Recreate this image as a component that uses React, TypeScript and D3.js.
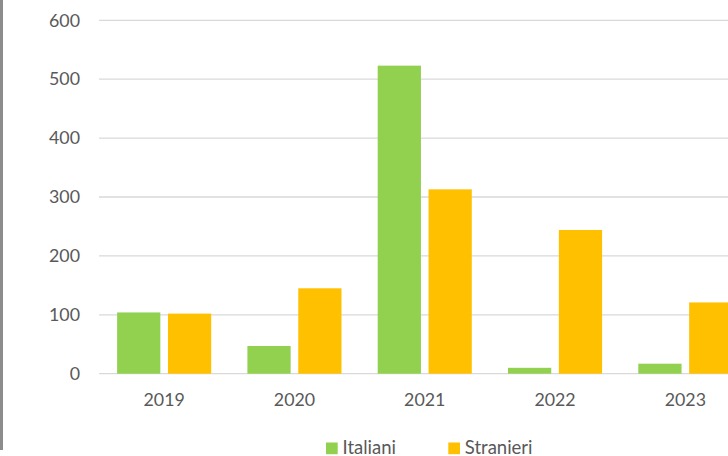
import React, { useEffect, useRef } from 'react';
import * as d3 from 'd3';

const years = ['2019', '2020', '2021', '2022', '2023'];
const italiani = [104, 47, 523, 10, 17];
const stranieri = [102, 145, 313, 244, 121];
const seriesNames = ['Italiani', 'Stranieri'];
const seriesColors = ['#92d050', '#ffc000'];
const yTicks = [0, 100, 200, 300, 400, 500, 600];

const App: React.FC = () => {
  const svgRef = useRef<SVGSVGElement>(null);

  useEffect(() => {
    if (!svgRef.current) return;
    const svg = d3.select(svgRef.current);
    svg.selectAll('*').remove();

    const width = 728;
    const font = 'Lato, "Open Sans", sans-serif';

    // chart runs off the right edge, as in the reference
    const x = d3.scaleBand().domain(years).range([99, 750.5]).paddingInner(0.278).paddingOuter(0.139);
    const inner = d3.scaleBand().domain(seriesNames).range([0, x.bandwidth()]).paddingInner(0.15);
    const y = d3.scaleLinear().domain([0, 600]).range([373.7, 20.3]);

    // left border
    svg.append('rect').attr('x', 0).attr('y', 0).attr('width', 3).attr('height', 450).attr('fill', '#8c8c8c');

    // grid
    svg
      .selectAll('.grid')
      .data(yTicks)
      .enter()
      .append('line')
      .attr('x1', 99)
      .attr('x2', width)
      .attr('y1', (d) => y(d))
      .attr('y2', (d) => y(d))
      .attr('stroke', '#d9d9d9')
      .attr('stroke-width', 1.3);

    svg
      .selectAll('.ylab')
      .data(yTicks)
      .enter()
      .append('text')
      .attr('x', 80)
      .attr('y', (d) => y(d))
      .attr('dy', '0.35em')
      .attr('text-anchor', 'end')
      .attr('font-family', font)
      .attr('font-size', 17.8)
      .attr('fill', '#595959')
      .text((d) => d);

    const data = [italiani, stranieri];
    data.forEach((vals, si) => {
      svg
        .append('g')
        .selectAll('rect')
        .data(vals)
        .enter()
        .append('rect')
        .attr('x', (_, i) => (x(years[i]) || 0) + (inner(seriesNames[si]) || 0))
        .attr('y', (d) => y(d))
        .attr('width', inner.bandwidth())
        .attr('height', (d) => y(0) - y(d))
        .attr('fill', seriesColors[si]);
    });

    svg
      .selectAll('.xlab')
      .data(years)
      .enter()
      .append('text')
      .attr('x', (d) => (x(d) || 0) + x.bandwidth() / 2)
      .attr('y', 400)
      .attr('dy', '0.35em')
      .attr('text-anchor', 'middle')
      .attr('font-family', font)
      .attr('font-size', 17.8)
      .attr('fill', '#595959')
      .text((d) => d);

    // legend
    const legendX = [326, 448.3];
    seriesNames.forEach((name, i) => {
      svg
        .append('rect')
        .attr('x', legendX[i])
        .attr('y', 442.5)
        .attr('width', 11.7)
        .attr('height', 11.7)
        .attr('fill', seriesColors[i]);
      svg
        .append('text')
        .attr('x', legendX[i] + 16.5)
        .attr('y', 447.5)
        .attr('dy', '0.35em')
        .attr('font-family', font)
        .attr('font-size', 18.5)
        .attr('fill', '#595959')
        .text(name);
    });
  }, []);

  return (
    <div style={{ position: 'fixed', left: 0, top: 0, width: 728, height: 456, overflow: 'hidden', background: '#fff' }}>
      <svg ref={svgRef} width="728" height="456" style={{ display: 'block' }}></svg>
    </div>
  );
};

export default App;
